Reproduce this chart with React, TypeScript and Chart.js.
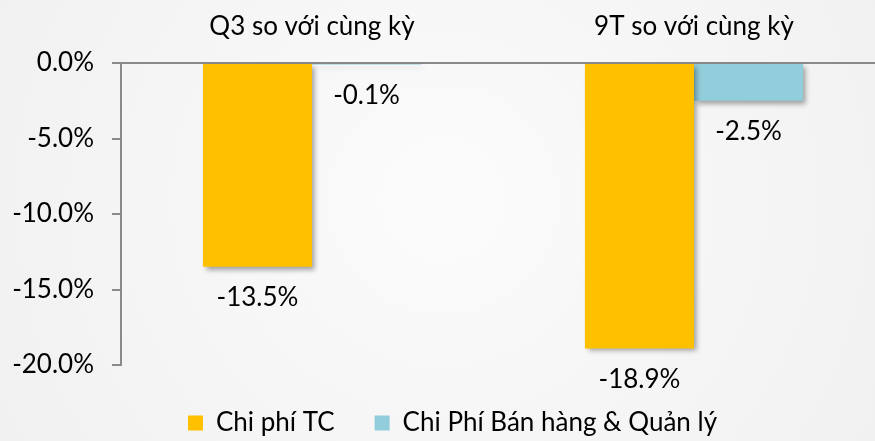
import React, { useEffect, useRef } from "react";
import { Chart, registerables } from "chart.js";

Chart.register(...registerables);

const categories = ["Q3 so với cùng kỳ", "9T so với cùng kỳ"];
const seriesNames = ["Chi phí TC", "Chi Phí Bán hàng & Quản lý"];
const chiPhiTC = [-13.5, -18.9];
const chiPhiBHQL = [-0.1, -2.5];
const yMin = -20;
const yMax = 0;
const yStep = 5;

const FONT = "Lato";
const FONT_SIZE = 26;
const GOLD = "#FFC000";
const BLUE = "#92CDDC";
const AXIS = "#8a8a8a";

const bgPlugin = {
  id: "bg",
  beforeDraw(chart: any) {
    const { ctx, width, height } = chart;
    ctx.save();
    const g = ctx.createRadialGradient(width * 0.5, height * 0.45, 20, width * 0.5, height * 0.45, width * 0.65);
    g.addColorStop(0, "#fbfbfb");
    g.addColorStop(1, "#efefef");
    ctx.fillStyle = g;
    ctx.fillRect(0, 0, width, height);
    ctx.restore();
  },
};

const legendShiftPlugin = {
  id: "legendShift",
  afterLayout(chart: any) {
    const lg = chart.legend;
    if (lg) {
      lg.left += 10;
      lg.right += 10;
      lg.top += 5;
      lg.bottom += 5;
    }
  },
};

const shadowPlugin = {
  id: "barShadow",
  beforeDatasetsDraw(chart: any) {
    const ctx = chart.ctx;
    ctx.save();
    ctx.shadowColor = "rgba(0,0,0,0.35)";
    ctx.shadowBlur = 5;
    ctx.shadowOffsetX = 3;
    ctx.shadowOffsetY = 3;
  },
  afterDatasetsDraw(chart: any) {
    chart.ctx.restore();
  },
};

const labelPlugin = {
  id: "valueLabels",
  afterDraw(chart: any) {
    const ctx = chart.ctx;
    ctx.save();
    ctx.font = `${FONT_SIZE}px ${FONT}`;
    ctx.fillStyle = "#000";
    ctx.textAlign = "center";
    ctx.textBaseline = "middle";
    chart.data.datasets.forEach((ds: any, di: number) => {
      const meta = chart.getDatasetMeta(di);
      meta.data.forEach((el: any, i: number) => {
        const v = ds.data[i];
        ctx.fillText(v.toFixed(1) + "%", el.x, el.y + 31);
      });
    });
    ctx.restore();
  },
};

export default function App() {
  const ref = useRef<HTMLCanvasElement | null>(null);
  useEffect(() => {
    if (!ref.current) return;
    const chart = new Chart(ref.current, {
      type: "bar",
      data: {
        labels: categories,
        datasets: [
          { label: seriesNames[0], data: chiPhiTC, backgroundColor: GOLD, borderWidth: 0, categoryPercentage: 0.571, barPercentage: 1 },
          { label: seriesNames[1], data: chiPhiBHQL, backgroundColor: BLUE, borderWidth: 0, categoryPercentage: 0.571, barPercentage: 1 },
        ],
      },
      options: {
        responsive: false,
        animation: false,
        devicePixelRatio: 1,
        layout: { padding: { left: 0, top: 0, right: 0, bottom: 0 } },
        plugins: {
          legend: {
            position: "bottom",
            labels: {
              boxWidth: 15,
              boxHeight: 15,
              padding: 40,
              color: "#000",
              font: { family: FONT, size: FONT_SIZE },
            },
          },
          tooltip: { enabled: false },
        },
        scales: {
          x: {
            position: "top",
            grid: { display: false },
            border: { display: true, color: AXIS, width: 2 },
            ticks: { color: "#000", font: { family: FONT, size: FONT_SIZE }, padding: 13 },
            afterFit: (s: any) => {
              s.height = 63;
            },
          },
          y: {
            min: yMin,
            max: yMax,
            ticks: {
              stepSize: yStep,
              color: "#000",
              font: { family: FONT, size: FONT_SIZE },
              padding: 18,
              callback: (v: any) => Number(v).toFixed(1) + "%",
            },
            grid: { drawOnChartArea: false, drawTicks: true, tickLength: 9, color: AXIS, lineWidth: 2 },
            border: { display: true, color: AXIS, width: 2 },
            afterFit: (s: any) => {
              s.width = 121;
            },
          },
        },
      },
      plugins: [bgPlugin, legendShiftPlugin, shadowPlugin, labelPlugin],
    });
    return () => chart.destroy();
  }, []);
  return (
    <div style={{ position: "fixed", left: 0, top: 0, width: 875, height: 441, overflow: "hidden" }}>
      <canvas ref={ref} width={885} height={441} style={{ display: "block", width: 885, height: 441 }} />
    </div>
  );
}
